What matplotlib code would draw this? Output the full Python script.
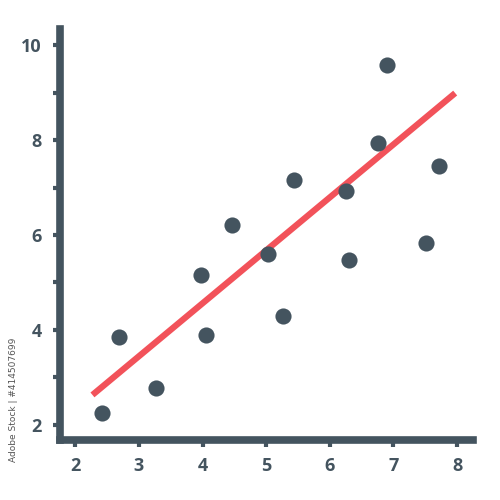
import matplotlib
matplotlib.use("Agg")
import matplotlib.pyplot as plt
import numpy as np

x_vals = [2.42, 2.69, 3.27, 3.98, 4.05, 4.47, 5.03, 5.27, 5.44, 6.25, 6.30, 6.76, 6.90, 7.51, 7.71]
y_vals = [2.25, 3.85, 2.78, 5.16, 3.89, 6.22, 5.60, 4.29, 7.16, 6.93, 5.47, 7.94, 9.58, 5.83, 7.45]
fit_x = [2.27, 7.97]
fit_y = [2.63, 8.99]
x_ticks = [2, 3, 4, 5, 6, 7, 8]
y_major = [2, 4, 6, 8, 10]
y_minor = [3, 5, 7, 9]

dark = "#44545f"
red = "#f2525a"

fig = plt.figure(figsize=(5, 5), dpi=100)
ax = fig.add_axes([0.12, 0.12, 0.826, 0.822])
ax.set_xlim(1.76, 8.25)
ax.set_ylim(1.68, 10.34)

ax.plot(fit_x, fit_y, color=red, lw=4.5, solid_capstyle="butt", zorder=2)
ax.scatter(x_vals, y_vals, s=135, color=dark, zorder=3, linewidths=0)

for side in ["top", "right"]:
    ax.spines[side].set_visible(False)
for side in ["left", "bottom"]:
    ax.spines[side].set_linewidth(5.5)
    ax.spines[side].set_color(dark)
    ax.spines[side].set_capstyle("projecting")

ax.set_xticks(x_ticks)
ax.set_xticklabels([str(v) for v in x_ticks])
ax.set_yticks(y_major)
ax.set_yticklabels([str(v) for v in y_major])
ax.set_yticks(y_minor, minor=True)
ax.tick_params(axis="both", which="both", length=5, width=3, color=dark,
               labelcolor=dark, labelsize=13)
ax.tick_params(axis="x", pad=7)
ax.tick_params(axis="y", pad=8)
for lab in ax.get_xticklabels() + ax.get_yticklabels():
    lab.set_fontweight("bold")
    lab.set_family("Open Sans")

fig.text(0.018, 0.2, "Adobe Stock | #414507699", rotation=90, fontsize=6.5,
         color="#555555", va="center", ha="left", family="DejaVu Sans")

fig.savefig("out.png", dpi=100)
